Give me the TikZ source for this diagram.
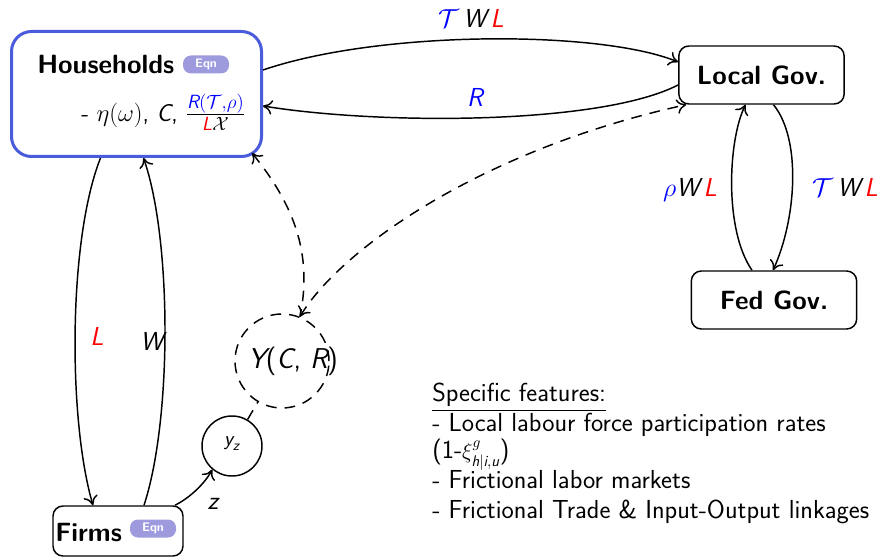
\documentclass[tikz,border=0pt]{standalone}
\usepackage{fix-cm}
\usepackage{amsmath}
\usepackage{fontspec}
\usetikzlibrary{arrows.meta}
\definecolor{hhblue}{RGB}{74,91,219}
\definecolor{eqnfill}{RGB}{157,155,222}
\definecolor{mblue}{RGB}{0,0,255}
\definecolor{mred}{RGB}{255,0,0}
\newcommand{\sv}[1]{\text{\sffamily\itshape #1}}
\newcommand{\si}[1]{{\sffamily\itshape #1}}
\begin{document}
\begin{tikzpicture}[x=0.75pt,y=-0.75pt,font=\sffamily,
  >={To[length=7pt,width=11pt]},
  conn/.style={line width=1.1pt},
  dconn/.style={line width=1.1pt,dash pattern=on 8pt off 6pt},
  agent/.style={draw,line width=1.1pt,rounded corners=7.5pt,minimum width=124pt,minimum height=43.5pt,inner sep=0pt,font=\fontsize{19.8}{23}\selectfont\bfseries\sffamily},
  eqn/.style={fill=eqnfill,rounded corners=6pt,minimum width=34.5pt,minimum height=13.5pt,inner sep=0pt,text=white,font=\fontsize{9.3}{11}\selectfont\bfseries\sffamily},
  lab/.style={font=\fontsize{19.5}{23}\selectfont\sffamily\itshape,inner sep=0pt},
  feat/.style={anchor=base west,inner sep=0pt,font=\fontsize{19.55}{23}\selectfont\sffamily}
]
\useasboundingbox (0,0) rectangle (880,559);

% Households
\node[draw=hhblue,line width=2.25pt,rounded corners=15pt,minimum width=187.5pt,minimum height=93.75pt,inner sep=0pt] (hh) at (136.5,94) {};
\node[anchor=base west,inner sep=0pt,font=\fontsize{19.8}{23}\selectfont\bfseries\sffamily] (hht) at (37,73.5) {Households};
\node[eqn] (hheqn) at (206,64.5) {Eqn};
\node[anchor=base west,inner sep=0pt,font=\fontsize{18.4}{22}\selectfont\sffamily] (hhv) at (81,121.5)
  {- $\eta(\omega)$, \si{C}, {\fontsize{20.5}{22}\selectfont$\frac{\color{mblue}\sv{R}(\mathcal{T},\rho)}{\color{mred}\sv{L}\color{black}\mathcal{X}}$}};

% Governments
\node[agent] (lg) at (761.5,75) {Local Gov.};
\node[agent] (fed) at (774,300) {Fed Gov.};

% Firms
\node[draw,line width=1.1pt,rounded corners=7.5pt,minimum width=97.5pt,minimum height=37.5pt,inner sep=0pt] (firms) at (118,531) {};
\node[anchor=base west,inner sep=0pt,font=\fontsize{19.8}{23}\selectfont\bfseries\sffamily] (firmst) at (55,541.5) {Firms};
\node[eqn] (firmseqn) at (153,528.5) {Eqn};

% Y and y_z
\node[draw,dconn,circle,minimum size=70.5pt,inner sep=0pt] (Y) at (282,361) {};
\node[inner sep=0pt,font=\fontsize{21.5}{24}\selectfont\sffamily] (Ytxt) at (293,361) {\si{Y}(\si{C}, \si{R})};
\node[draw,line width=1.1pt,circle,minimum size=45pt,inner sep=0pt] (yz) at (232,446) {};
\node[inner sep=0pt,font=\fontsize{15.5}{18}\selectfont\sffamily] (yzt) at (232,444) {$\sv{y}_{\sv{z}}$};

% connectors
\draw[conn,->] ([shift={(0,-24)}]hh.east) .. controls (380,30) and (600,30) .. ([shift={(0,-13)}]lg.west);
\draw[conn,->] ([shift={(0,10)}]lg.west) .. controls (600,125) and (380,125) .. ([shift={(0,12)}]hh.east);
\draw[conn,->] ([shift={(-22,0)}]fed.north) .. controls (724,230) and (728,140) .. ([shift={(-16,0)}]lg.south);
\draw[conn,->] ([shift={(12,0)}]lg.south) .. controls (802,140) and (796,220) .. ([shift={(-1,0)}]fed.north);
\draw[conn,->] ([shift={(-36,0)}]hh.south) .. controls (68,240) and (68,420) .. ([shift={(-25,0)}]firms.north);
\draw[conn,->] ([shift={(26,0)}]firms.north) .. controls (172,420) and (172,240) .. ([shift={(7,0)}]hh.south);
\draw[conn,->] ([shift={(57,0)}]firms.north) .. controls (195,495) and (208,478) .. (yz.230);
\draw[dconn] (yz) -- (Y);
\draw[dconn,<-] ([shift={(-11,-5)}]hh.south east) .. controls (290,200) and (314,250) .. (Y.68);
\draw[dconn,<->] (Y.68) .. controls (340,250) and (480,150) .. ([shift={(8,0)}]lg.south west);

% edge labels
\node[lab] (ltop) at (471,18) {\color{mblue}$\mathcal{T}$\,\color{black}W\,\color{mred}L};
\node[lab] (lR) at (475,97) {\color{mblue}R};
\node[lab] (lrho) at (690,190) {\color{mblue}$\rho$\color{black}W\,\color{mred}L};
\node[lab] (lfed) at (845,187) {\color{mblue}$\mathcal{T}$\,\color{black}W\,\color{mred}L};
\node[lab] (lL) at (97,336) {\color{mred}L};
\node[lab] (lW) at (152,341) {W};
\node[lab] (lz) at (213,504) {z};

% features
\node[feat] (f1) at (432,401.7) {\underline{Specific features:}};
\node[feat] (f2) at (432,431.7) {- Local labour force participation rates};
\node[feat] (f3) at (432,458.5) {(1-{\fontsize{16.5}{19}\selectfont$\xi^{g}_{\sv{h}|\sv{i},\sv{u}}$})};
\node[feat] (f4) at (432,488) {- Frictional labor markets};
\node[feat] (f5) at (432,518) {- Frictional Trade \& Input-Output linkages};
\end{tikzpicture}
\end{document}
